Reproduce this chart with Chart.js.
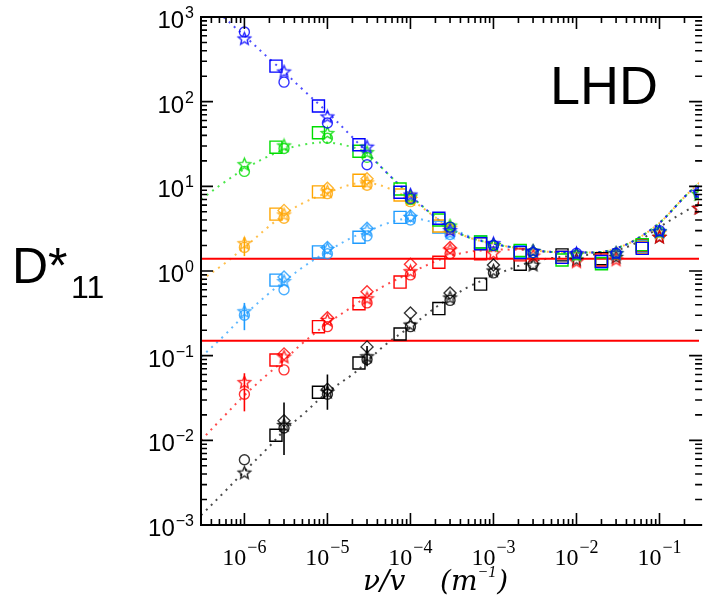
<!DOCTYPE html>
<html>
<head>
<meta charset="utf-8">
<script src="https://cdn.jsdelivr.net/npm/chart.js@4.4.1/dist/chart.umd.min.js"></script>
<style>
  html, body { margin: 0; padding: 0; background: #fff; }
</style>
</head>
<body>
<canvas id="d11chart" width="709" height="603"></canvas>
<script>
// nu/v of the runs (stars, circles, diamonds)
var xRuns = [1e-6, 3e-6, 1e-5, 3e-5, 1e-4, 3e-4, 1e-3, 3e-3, 1e-2, 3e-2, 1e-1, 3e-1];
// the squares sit a bit to the left of the runs
var xSquares = [2.4e-6, 7.8e-6, 2.4e-5, 7.5e-5, 2.2e-4, 7e-4, 2.1e-3, 6.7e-3, 2e-2, 6.2e-2];
// x of the dotted fit curves
var xFit = [3e-7, 5.6e-7, 1e-6, 2e-6, 3e-6, 5e-6, 1e-5, 2e-5, 3e-5, 5e-5, 1e-4, 2e-4, 3e-4, 5e-4, 1e-3, 2e-3, 3e-3, 5e-3, 1e-2, 2e-2, 3e-2, 5e-2, 1e-1, 2e-1, 3.3e-1];

// blue
var blueStar = [550, 224, 66, 29, 7.9, 3.0, 2.1, 1.7, 1.6, 1.6, 2.9, 8.5];
var blueCirc = [665, 170, 56, 18, 7.2, 3.3, 2.0, 1.65, 1.62, 1.62, 3.0, 8.5];
var blueSq   = [263, 89, 31, 8.5, 4.2, 2.1, 1.65, 1.45, 1.3, 1.85];
var blueFit  = [null, 1000, 600, 320, 225, 140, 75, 38, 25, 15, 7.8, 4.3, 3.2, 2.5, 2.1, 1.85, 1.75, 1.68, 1.65, 1.68, 1.85, 2.3, 3.7, 7.5, 12];
// green
var greenStar = [18, 30, 42, 25, 7.5, 3.4, 2.0, 1.7, 1.55, 1.6, 2.9, 8];
var greenCirc = [15, 28, 37, 22, 7.0, 3.3, 2.0, 1.65, 1.55, 1.6, 2.9, 8];
var greenSq   = [29, 43, 26, 9.3, 4.0, 2.2, 1.75, 1.35, 1.22, 2.05];
var greenFit  = [7, 11, 16, 23, 27, 31, 33, 29, 24.5, 15, 7.8, 4.3, 3.2, 2.5, 2.1, 1.85, 1.75, 1.68, 1.65, 1.68, 1.85, 2.3, 3.7, 7.5, 12];
// orange
var orangeStar = [2.1, 4.6, 8.6, 11, 7.0, 3.2, 2.0, 1.7, 1.55, 1.6, 2.8, 8];
var orangeCirc = [1.9, 4.2, 8.2, 10.3, 6.6, 3.1, null, null, null, null, null, null];
var orangeDia  = [null, 5.2, 9.5, 12.3, 7.6, null, null, null, null, null, null, null];
var orangeSq   = [4.7, 8.6, 11.8, 7.9, 3.4, 2.1, 1.65, 1.45, 1.3, 1.9];
var orangeFit  = [0.78, 1.2, 1.9, 3.4, 4.6, 6.3, 8.4, 10.6, 11, 9.8, 7.0, 4.3, 3.2, 2.5, 2.1, 1.85, 1.75, 1.68, 1.65, 1.68, 1.85, 2.3, 3.7, 7.5, 12];
// light blue
var lblueStar = [0.33, 0.75, 1.8, 3.0, 4.3, 2.8, 2.0, 1.7, 1.55, 1.6, 2.9, 8];
var lblueCirc = [0.3, 0.6, 1.6, 2.6, 4.0, 2.7, null, null, null, null, null, null];
var lblueDia  = [null, 0.85, 1.9, 3.2, 4.5, null, null, null, null, null, null, null];
var lblueSq   = [0.78, 1.68, 2.5, 4.3, 3.3, 2.2, 1.7, 1.45, 1.28, 1.95];
var lblueFit  = [0.096, 0.17, 0.3, 0.55, 0.75, 1.1, 1.7, 2.5, 2.9, 3.6, 4.2, 3.7, 3.2, 2.6, 2.1, 1.85, 1.75, 1.68, 1.65, 1.68, 1.85, 2.3, 3.7, 7.5, 12];
// red
var redStar = [0.048, 0.096, 0.26, 0.47, 0.98, 1.77, 1.6, 1.5, 1.28, 1.35, 2.5, 5.5];
var redCirc = [0.035, 0.068, 0.22, 0.42, 0.9, 1.6, null, null, null, null, null, null];
var redDia  = [null, 0.105, 0.28, 0.57, 1.2, 1.9, null, null, null, null, null, null];
var redSq   = [0.089, 0.22, 0.41, 0.74, 1.27, 1.6, 1.55, 1.45, 1.35, 2.0];
var redFit  = [0.01, 0.019, 0.034, 0.063, 0.088, 0.14, 0.24, 0.38, 0.5, 0.68, 0.95, 1.3, 1.5, 1.68, 1.78, 1.78, 1.75, 1.68, 1.65, 1.68, 1.85, 2.3, 3.7, 7.5, 12];
// black
var blackStar = [0.0041, 0.015, 0.037, 0.097, 0.23, 0.48, 1.0, 1.17, 1.35, 1.45, 2.5, 5.5];
var blackCirc = [0.0059, 0.014, 0.035, 0.09, 0.22, 0.45, 0.95, 1.2, null, null, null, null];
var blackDia  = [null, 0.017, 0.04, 0.127, 0.32, 0.55, 1.18, null, null, null, null, null];
var blackSq   = [0.0115, 0.037, 0.082, 0.18, 0.36, 0.7, 1.2, 1.55, 1.4, 1.95];
var blackFit  = [0.0013, 0.0024, 0.0043, 0.0085, 0.013, 0.02, 0.037, 0.06, 0.085, 0.135, 0.22, 0.37, 0.48, 0.65, 0.88, 1.15, 1.3, 1.42, 1.52, 1.6, 1.75, 2.1, 3.3, 5.0, 6.6];

// error bars
var redErrX = [1e-6], redErrLo = [0.022], redErrHi = [0.062];
var orangeErrX = [1e-6], orangeErrLo = [1.5], orangeErrHi = [2.5];
var lblueErrX = [1e-6], lblueErrLo = [0.2], lblueErrHi = [0.42];
var blackErrX = [3e-6, 1e-5, 3e-5], blackErrLo = [0.0067, 0.023, 0.075], blackErrHi = [0.028, 0.06, 0.13];

// the two red reference levels
var refLevels = [1.4, 0.15];

// tick labels
var xTickVals = [1e-6, 1e-5, 1e-4, 1e-3, 1e-2, 1e-1];
var xTickExp  = ['\u22126', '\u22125', '\u22124', '\u22123', '\u22122', '\u22121'];
var yTickVals = [1e-3, 1e-2, 1e-1, 1, 10, 100, 1000];
var yTickExp  = ['\u22123', '\u22122', '\u22121', '0', '1', '2', '3'];

var BLUE = '#0000ff', GREEN = '#00dd00', ORANGE = '#ffa500', LBLUE = '#1e9bff', RED = '#ff0000', BLACK = '#000000';

function pts(xs, ys) {
  var out = [];
  for (var i = 0; i < xs.length; i++) {
    if (ys[i] != null) out.push({ x: xs[i], y: ys[i] });
  }
  return out;
}

// hollow five point star as a point image
function starImg(color, r) {
  var c = document.createElement('canvas');
  var s = Math.ceil(2 * r + 4);
  c.width = s; c.height = s;
  var g = c.getContext('2d');
  g.strokeStyle = color;
  g.globalAlpha = 0.85;
  g.lineWidth = 1.4;
  g.beginPath();
  for (var i = 0; i < 10; i++) {
    var rr = i % 2 === 0 ? r : r * 0.45;
    var a = -Math.PI / 2 + i * Math.PI / 5;
    var px = s / 2 + rr * Math.cos(a), py = s / 2 + rr * Math.sin(a);
    if (i === 0) g.moveTo(px, py); else g.lineTo(px, py);
  }
  g.closePath();
  g.stroke();
  return c;
}

function fade(color, a) {
  var n = parseInt(color.slice(1), 16);
  return 'rgba(' + (n >> 16) + ',' + ((n >> 8) & 255) + ',' + (n & 255) + ',' + a + ')';
}

function markers(xs, ys, color, style, radius) {
  return {
    type: 'scatter',
    data: pts(xs, ys),
    pointStyle: style,
    pointRadius: radius,
    borderColor: style === 'rect' ? color : fade(color, 0.8),
    backgroundColor: 'rgba(0,0,0,0)',
    pointBorderWidth: 1.4,
    showLine: false,
    order: 1
  };
}

function fitCurve(ys, color) {
  return {
    type: 'line',
    data: pts(xFit, ys),
    borderColor: fade(color, 0.7),
    borderWidth: 2,
    borderDash: [2, 5],
    pointRadius: 0,
    tension: 0.35,
    fill: false,
    showLine: true,
    order: 5
  };
}

function errBars(xs, lo, hi, color) {
  var d = [];
  for (var i = 0; i < xs.length; i++) {
    d.push({ x: xs[i], y: lo[i] }, { x: xs[i], y: hi[i] }, { x: xs[i], y: null });
  }
  return { type: 'line', data: d, borderColor: color, borderWidth: 1.6, pointRadius: 0, spanGaps: false, showLine: true, order: 2 };
}

function refLine(v) {
  return { type: 'line', data: [{ x: 3e-7, y: v }, { x: 0.33, y: v }], borderColor: RED, borderWidth: 2, pointRadius: 0, showLine: true, order: 3 };
}

function group(color, star, circ, dia, sq, fit) {
  var list = [fitCurve(fit, color), markers(xSquares, sq, color, 'rect', 8.5)];
  if (circ) list.push(markers(xRuns, circ, color, 'circle', 5));
  if (dia) list.push(markers(xRuns, dia, color, 'rectRot', 6));
  list.push(markers(xRuns, star, color, starImg(color, 6.5), 6.5));
  return list;
}

var datasets = [].concat(
  group(BLUE, blueStar, blueCirc, null, blueSq, blueFit),
  group(GREEN, greenStar, greenCirc, null, greenSq, greenFit),
  group(ORANGE, orangeStar, orangeCirc, orangeDia, orangeSq, orangeFit),
  group(LBLUE, lblueStar, lblueCirc, lblueDia, lblueSq, lblueFit),
  group(RED, redStar, redCirc, redDia, redSq, redFit),
  group(BLACK, blackStar, blackCirc, blackDia, blackSq, blackFit),
  [errBars(redErrX, redErrLo, redErrHi, RED),
   errBars(orangeErrX, orangeErrLo, orangeErrHi, ORANGE),
   errBars(lblueErrX, lblueErrLo, lblueErrHi, LBLUE),
   errBars(blackErrX, blackErrLo, blackErrHi, BLACK),
   refLine(refLevels[0]), refLine(refLevels[1])]
);

// box with inward ticks, like the IDL plot (right side falls just off the picture)
var frame = {
  id: 'frame',
  afterDatasetsDraw: function (chart) {
    var ctx = chart.ctx, a = chart.chartArea, xs = chart.scales.x, ys = chart.scales.y;
    var rightEdge = a.right + 3;
    ctx.save();
    ctx.strokeStyle = '#000';
    ctx.lineWidth = 1.6;
    ctx.beginPath();
    for (var e = -7; e <= 3; e++) {
      for (var m = 1; m <= 9; m++) {
        var v = m * Math.pow(10, e);
        var len = m === 1 ? 12 : 6;
        if (v >= xs.min && v <= xs.max) {
          var px = xs.getPixelForValue(v);
          ctx.moveTo(px, a.bottom); ctx.lineTo(px, a.bottom - len);
          ctx.moveTo(px, a.top); ctx.lineTo(px, a.top + len);
        }
        if (v >= ys.min && v <= ys.max) {
          var py = ys.getPixelForValue(v);
          ctx.moveTo(a.left, py); ctx.lineTo(a.left + len, py);
          ctx.moveTo(rightEdge, py); ctx.lineTo(rightEdge - len - 1, py);
        }
      }
    }
    ctx.stroke();
    ctx.lineWidth = 2;
    ctx.beginPath();
    ctx.moveTo(rightEdge, a.top); ctx.lineTo(a.left, a.top);
    ctx.lineTo(a.left, a.bottom); ctx.lineTo(rightEdge, a.bottom);
    ctx.stroke();
    ctx.restore();
  },
  afterDraw: function (chart) {
    var ctx = chart.ctx, a = chart.chartArea, xs = chart.scales.x, ys = chart.scales.y;
    ctx.save();
    ctx.fillStyle = '#000';
    ctx.textBaseline = 'alphabetic';
    // y tick labels
    for (var i = 0; i < yTickVals.length; i++) {
      var py = ys.getPixelForValue(yTickVals[i]);
      ctx.font = '24px "Liberation Sans"';
      var w1 = ctx.measureText('10').width;
      ctx.font = '16px "Liberation Sans"';
      var w2 = ctx.measureText(yTickExp[i]).width;
      var x0 = a.left - 7 - w1 - w2 - 1;
      ctx.font = '24px "Liberation Sans"';
      ctx.fillText('10', x0, py + 11);
      ctx.font = '16px "Liberation Sans"';
      ctx.fillText(yTickExp[i], x0 + w1 + 1, py + 1);
    }
    // x tick labels
    for (var j = 0; j < xTickVals.length; j++) {
      var px = xs.getPixelForValue(xTickVals[j]);
      ctx.font = '24px "Liberation Serif"';
      var u1 = ctx.measureText('10').width;
      ctx.font = '18px "Liberation Serif"';
      var u2 = ctx.measureText(xTickExp[j]).width;
      var s0 = px - (u1 + u2 + 1) / 2;
      ctx.font = '24px "Liberation Serif"';
      ctx.fillText('10', s0, a.bottom + 40);
      ctx.font = '18px "Liberation Serif"';
      ctx.fillText(xTickExp[j], s0 + u1 + 1, a.bottom + 28);
    }
    // axis title, set in pieces like the TeX original
    ctx.font = 'italic 28px "DejaVu Serif"';
    ctx.fillText('\u03bd/v', 363, 590);
    ctx.fillText('(m', 440, 590);
    var wm = ctx.measureText('(m').width;
    ctx.font = 'italic 16px "Liberation Serif"';
    ctx.fillText('\u22121', 440 + wm, 577);
    var we = ctx.measureText('\u22121').width;
    ctx.font = 'italic 28px "DejaVu Serif"';
    ctx.fillText(')', 440 + wm + we + 1, 590);
    // y label D*11
    ctx.font = '50px "Liberation Sans"';
    ctx.fillText('D*', 12, 283);
    ctx.font = '32px "Liberation Sans"';
    ctx.fillText('11', 71, 298);
    // device name
    ctx.font = '54px "Liberation Sans"';
    ctx.fillText('LHD', 550, 104);
    ctx.restore();
  }
};

var ctx = document.getElementById('d11chart').getContext('2d');
var d11 = new Chart(ctx, {
  type: 'scatter',
  data: { datasets: datasets },
  options: {
    responsive: false,
    animation: false,
    layout: { padding: { left: 0, right: 0, top: 17, bottom: 0 } },
    plugins: { legend: { display: false }, tooltip: { enabled: false } },
    scales: {
      x: {
        type: 'logarithmic', position: 'bottom', min: 3e-7, max: 0.3,
        ticks: { display: false }, grid: { display: false }, border: { display: false },
        afterFit: function (s) { s.height = 78; }
      },
      y: {
        type: 'logarithmic', position: 'left', min: 1e-3, max: 1e3,
        ticks: { display: false }, grid: { display: false }, border: { display: false },
        afterFit: function (s) { s.width = 201; }
      }
    }
  },
  plugins: [frame]
});
</script>
</body>
</html>
